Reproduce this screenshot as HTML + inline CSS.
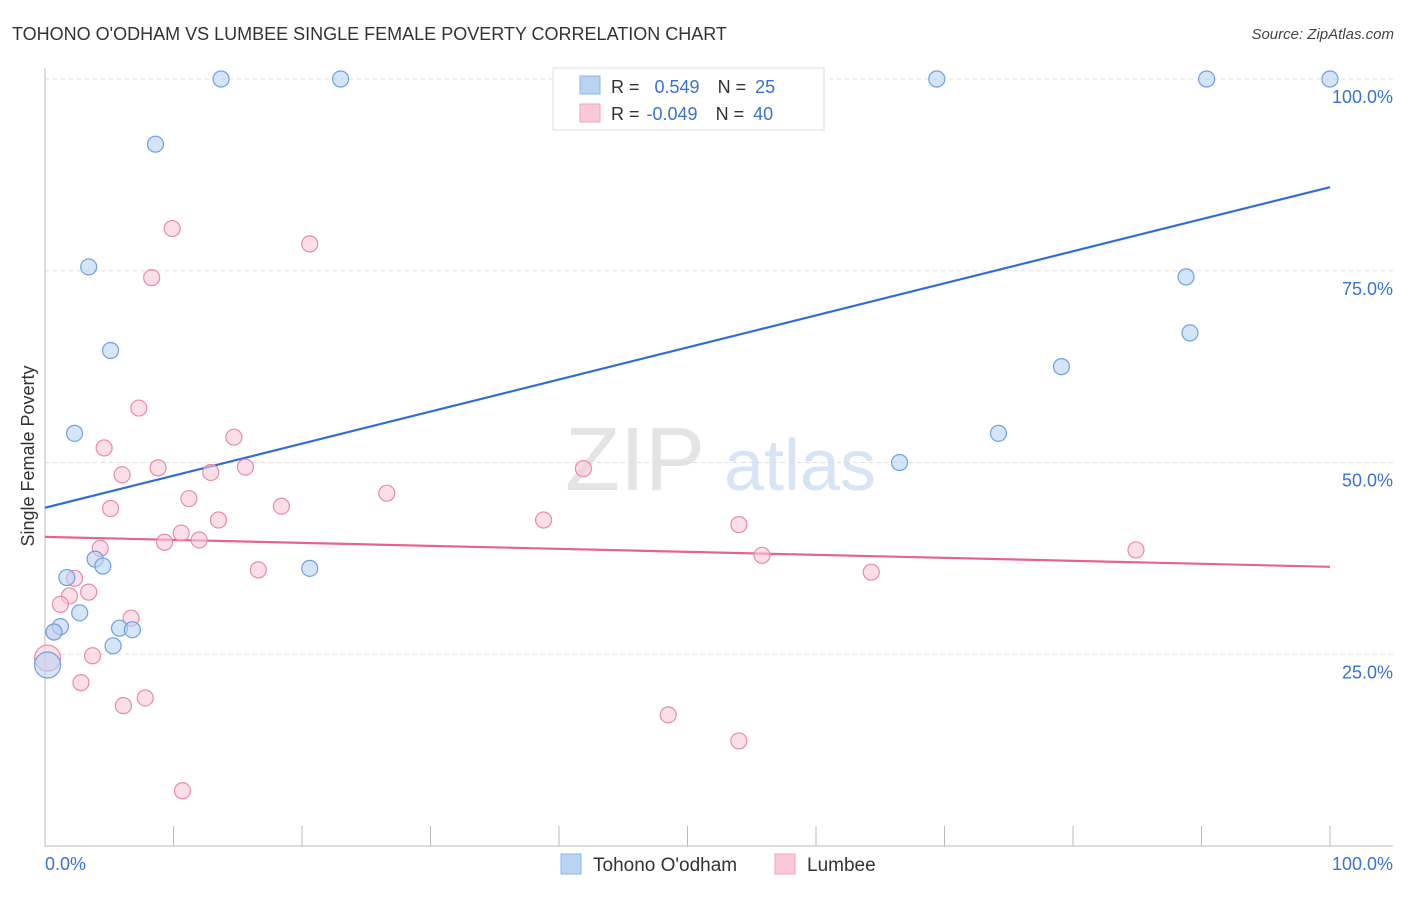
<!DOCTYPE html>
<html><head><meta charset="utf-8"><style>
body{margin:0;background:#fff;font-family:"Liberation Sans",sans-serif;}
svg text{font-family:"Liberation Sans",sans-serif;}
</style></head><body>
<svg id="chart" width="1406" height="892" xmlns="http://www.w3.org/2000/svg">
<text x="12" y="40" font-size="18" fill="#333">TOHONO O'ODHAM VS LUMBEE SINGLE FEMALE POVERTY CORRELATION CHART</text>
<text x="1394" y="39" font-size="15" fill="#444" font-style="italic" text-anchor="end">Source: ZipAtlas.com</text>
<text x="0" y="0" font-size="18" fill="#333" text-anchor="middle" transform="translate(34,456) rotate(-90)">Single Female Poverty</text>
<g>
<text x="635" y="490" font-size="90" fill="#e4e4e4" font-family="Liberation Serif" text-anchor="middle">ZIP</text>
<text x="800" y="490" font-size="72" fill="#d6e4f5" text-anchor="middle">atlas</text>
</g>
<g id="grid"></g>
<g id="axes"></g>
<g id="lines"></g>
<g id="points"></g>
<g>
<rect x="553" y="68" width="271" height="62" fill="#fff" stroke="#ddd"/>
<rect x="580" y="76" width="20" height="18" fill="#b9d3f3" stroke="#8fb4e6"/>
<rect x="580" y="104" width="20" height="18" fill="#f9c9d8" stroke="#eea6bd"/>
<text x="611" y="93" font-size="18" fill="#333">R = <tspan fill="#3a72cf" dx="10">0.549</tspan><tspan fill="#333" dx="18">N = </tspan><tspan fill="#3a72cf" dx="4">25</tspan></text>
<text x="611" y="120" font-size="18" fill="#333">R = <tspan fill="#3a72cf" dx="2">-0.049</tspan><tspan fill="#333" dx="18">N = </tspan><tspan fill="#3a72cf" dx="4">40</tspan></text>
</g>
<g>
<rect x="561" y="854" width="20" height="20" fill="#b9d3f3" stroke="#8fb4e6"/>
<text x="593" y="871" font-size="19" fill="#333">Tohono O'odham</text>
<rect x="775" y="854" width="20" height="20" fill="#f9c9d8" stroke="#eea6bd"/>
<text x="807" y="871" font-size="19" fill="#333">Lumbee</text>
</g>
</svg>
<script>
const yTicks=[25,50,75,100];
const yTickLabels=["25.0%","50.0%","75.0%","100.0%"];
const blueX=[13.7,23.0,69.4,90.4,100,8.6,3.4,88.8,5.1,89.1,79.1,2.3,74.2,66.5,3.9,4.5,20.6,1.7,2.7,1.2,0.7,5.8,6.8,5.3,0.2];
const blueY=[100,100,100,100,100,91.5,75.5,74.2,64.6,66.9,62.5,53.8,53.8,50,37.4,36.5,36.2,35.0,30.4,28.6,27.9,28.4,28.2,26.1,23.6];
const pinkX=[9.9,20.6,8.3,7.3,14.7,4.6,8.8,15.6,12.9,6.0,41.9,26.6,11.2,5.1,18.4,13.5,38.8,54.0,10.6,12.0,9.3,4.3,84.9,55.8,16.6,64.3,2.3,3.4,1.9,1.2,6.7,0.7,3.7,0.2,2.8,7.8,6.1,48.5,54.0,10.7];
const pinkY=[80.5,78.5,74.1,57.1,53.3,51.9,49.3,49.4,48.7,48.4,49.2,46.0,45.3,44.0,44.3,42.5,42.5,41.9,40.8,39.9,39.6,38.8,38.6,37.9,36.0,35.7,34.9,33.1,32.6,31.5,29.7,27.9,24.8,24.5,21.3,19.3,18.3,17.1,13.7,7.2];
const blueTrend=[44.1,85.9];
const pinkTrend=[40.3,36.4];
const NS="http://www.w3.org/2000/svg";
const X=v=>45+v*12.85;
const Y=v=>846-v*7.67;
function mk(p,tag,at){const e=document.createElementNS(NS,tag);for(const k in at)e.setAttribute(k,at[k]);p.appendChild(e);return e;}
const grid=document.getElementById('grid'),axes=document.getElementById('axes'),lines=document.getElementById('lines'),pts=document.getElementById('points');
yTicks.forEach((t,i)=>{
 const l=mk(grid,'line',{x1:45,x2:1393,y1:Y(t),y2:Y(t),stroke:'#ddd','stroke-dasharray':'4,4'});
 
 
 const tx=mk(axes,'text',{x:1393,y:Y(t)+24,'font-size':18,fill:'#3a72cf','text-anchor':'end'});
 tx.textContent=yTickLabels[i];
 
 
});
const ax=mk(axes,'line',{x1:45,x2:45,y1:68,y2:846,stroke:'#bbb'});


const bx=mk(axes,'line',{x1:45,x2:1393,y1:846,y2:846,stroke:'#bbb'});


for(let i=0;i<=10;i++){const t=mk(axes,'line',{x1:X(i*10),x2:X(i*10),y1:826,y2:846,stroke:'#bbb'});
 
 }
const x0=mk(axes,'text',{x:45,y:870,'font-size':18,fill:'#3a72cf'});x0.textContent='0.0%';


const x1=mk(axes,'text',{x:1393,y:870,'font-size':18,fill:'#3a72cf','text-anchor':'end'});x1.textContent='100.0%';


function series(xs,ys,fill,stroke,name){xs.forEach((x,i)=>{
 const big=x<0.5;
 const c=mk(pts,'circle',{cx:X(x),cy:Y(ys[i]),r:big?13:8,fill:fill,'fill-opacity':0.6,stroke:stroke,'stroke-width':1.2});
 
 });}
series(pinkX,pinkY,'#f9c9d8','#e98aa8','lumbee');
series(blueX,blueY,'#b9d3f3','#6f9fe0','tohono');
const bl=mk(lines,'line',{x1:X(0),x2:X(100),y1:Y(blueTrend[0]),y2:Y(blueTrend[1]),stroke:'#2f6fd0','stroke-width':2.2});


const pl=mk(lines,'line',{x1:X(0),x2:X(100),y1:Y(pinkTrend[0]),y2:Y(pinkTrend[1]),stroke:'#e4648e','stroke-width':2.2});


</script>
</body></html>
